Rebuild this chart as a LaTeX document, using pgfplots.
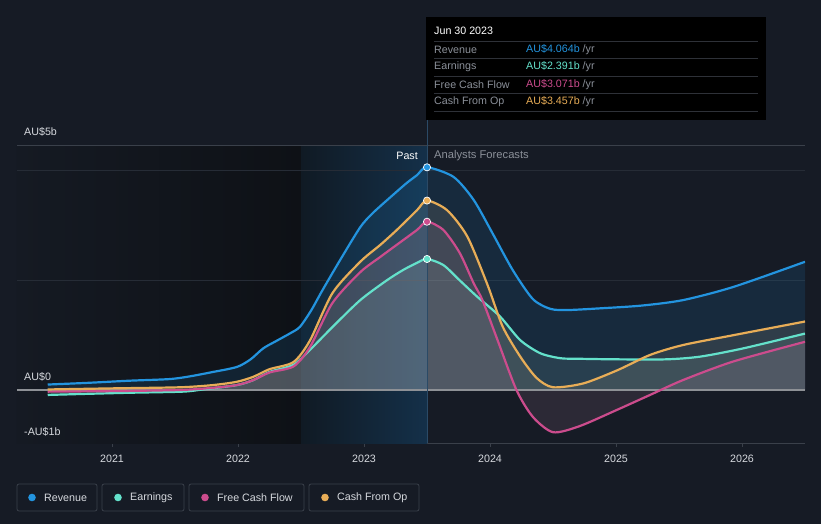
\documentclass[border=0pt]{standalone}
\usepackage{fontspec}
\setmainfont{Liberation Sans}
\usepackage{pgfplots}
\pgfplotsset{compat=1.18}
\usepackage{pgfplotstable}

\definecolor{bg}{HTML}{161B25}
\definecolor{darkL}{HTML}{151A23}
\definecolor{darkR}{HTML}{0E1116}
\definecolor{pastL}{HTML}{101A24}
\definecolor{pastR}{HTML}{143049}
\definecolor{gridc}{HTML}{262C36}
\definecolor{axisc}{HTML}{3A404A}
\definecolor{zeroc}{HTML}{8E9196}
\definecolor{rev}{HTML}{2394DF}
\definecolor{earn}{HTML}{64E1CB}
\definecolor{fcf}{HTML}{CC4C8D}
\definecolor{cfo}{HTML}{E8AD57}
\definecolor{txt}{HTML}{D6D9DE}
\definecolor{muted}{HTML}{8B9099}
\definecolor{sep}{HTML}{2E3138}
\definecolor{vline}{HTML}{2B4A66}

\pgfplotstableread{
x y
2020.49 0.10
2020.80 0.13
2021.14 0.17
2021.46 0.20
2021.62 0.25
2021.78 0.32
2021.99 0.42
2022.10 0.56
2022.20 0.76
2022.30 0.89
2022.41 1.03
2022.49 1.15
2022.58 1.45
2022.67 1.82
2022.81 2.37
2022.97 2.97
2023.07 3.23
2023.23 3.56
2023.34 3.78
2023.42 3.92
2023.50 4.064
2023.71 3.89
2023.87 3.47
2024.02 2.86
2024.18 2.19
2024.34 1.66
2024.48 1.48
2024.62 1.46
2024.87 1.49
2025.20 1.54
2025.53 1.64
2025.93 1.88
2026.50 2.34
}\revtab

\pgfplotstableread{
x y
2020.49 -0.09
2020.80 -0.07
2021.14 -0.05
2021.56 -0.03
2021.72 0.01
2021.99 0.09
2022.12 0.18
2022.25 0.33
2022.44 0.46
2022.57 0.73
2022.75 1.15
2022.97 1.64
2023.18 2.00
2023.31 2.19
2023.42 2.32
2023.50 2.391
2023.63 2.28
2023.76 2.00
2023.90 1.70
2024.08 1.34
2024.24 0.91
2024.40 0.67
2024.56 0.58
2024.71 0.57
2025.00 0.56
2025.40 0.56
2025.67 0.61
2026.01 0.76
2026.50 1.03
}\earntab

\pgfplotstableread{
x y
2020.49 -0.03
2021.00 -0.02
2021.54 0.00
2021.80 0.04
2021.99 0.09
2022.12 0.18
2022.25 0.32
2022.44 0.43
2022.57 0.78
2022.75 1.59
2022.97 2.15
2023.13 2.43
2023.26 2.65
2023.42 2.92
2023.50 3.071
2023.63 2.92
2023.76 2.50
2023.87 1.95
2023.94 1.64
2024.06 0.91
2024.21 0.00
2024.34 -0.49
2024.50 -0.77
2024.71 -0.66
2025.01 -0.36
2025.27 -0.09
2025.53 0.18
2025.93 0.52
2026.50 0.88
}\fcftab

\pgfplotstableread{
x y
2020.49 0.01
2021.00 0.03
2021.54 0.05
2021.80 0.09
2021.99 0.15
2022.12 0.24
2022.25 0.38
2022.44 0.51
2022.57 0.90
2022.75 1.77
2022.97 2.34
2023.13 2.65
2023.26 2.92
2023.42 3.28
2023.50 3.457
2023.66 3.28
2023.82 2.80
2023.98 1.92
2024.10 1.16
2024.24 0.61
2024.37 0.22
2024.50 0.05
2024.74 0.12
2025.01 0.36
2025.27 0.64
2025.53 0.82
2025.93 1.00
2026.50 1.25
}\cfotab

\begin{document}
\begin{tikzpicture}[font=\fontsize{10.7}{12.5}\selectfont]
\fill[bg] (0,0) rectangle (821pt,-524pt);
\begin{axis}[
  at={(17pt,-443pt)}, anchor=south west,
  scale only axis, width=788pt, height=298pt,
  xmin=2020.246, xmax=2026.5, ymin=-0.967, ymax=4.471,
  axis x line*=bottom, axis y line=none,
  x axis line style={draw=axisc, line width=0.8pt, -},
  xtick={2021,2022,2023,2024,2025,2026},
  tick align=outside, major tick length=4pt,
  xtick style={draw=axisc, line width=0.8pt},
  ytick=\empty,
  /pgf/number format/1000 sep={},
  /pgf/number format/assume math mode=true,
  xticklabel style={text=txt, font=\fontsize{10.7}{12.5}\selectfont, yshift=-4pt},
  clip=true,
]
% backgrounds
\fill[left color=darkL, right color=darkR] (axis cs:2020.246,-0.967) rectangle (axis cs:2022.5,4.471);
\fill[left color=pastL, right color=pastR] (axis cs:2022.5,-0.967) rectangle (axis cs:2023.5,4.471);
\draw[gridc, line width=0.8pt] (axis cs:2020.246,2) -- (axis cs:2026.5,2);
\draw[gridc, line width=0.8pt] (axis cs:2020.246,4) -- (axis cs:2026.5,4);
\draw[axisc, line width=0.8pt] (axis cs:2020.246,4.471) -- (axis cs:2026.5,4.471);
% fills
\addplot[draw=none, fill=rev, fill opacity=0.13, smooth, tension=0.45] table {\revtab} \closedcycle;
\addplot[draw=none, fill=earn!45!white, fill opacity=0.11, smooth, tension=0.45] table {\earntab} \closedcycle;
\addplot[draw=none, fill=fcf!55!white, fill opacity=0.11, smooth, tension=0.45] table {\fcftab} \closedcycle;
\addplot[draw=none, fill=cfo!45!white, fill opacity=0.11, smooth, tension=0.45] table {\cfotab} \closedcycle;
\draw[zeroc, line width=1.2pt] (axis cs:2020.246,0) -- (axis cs:2026.5,0);
\draw[vline, line width=1pt] (axis cs:2023.5,-0.967) -- (axis cs:2023.5,4.471);
% lines
\addplot[rev, line width=2.2pt, smooth, tension=0.45] table {\revtab};
\addplot[earn, line width=2.2pt, smooth, tension=0.45] table {\earntab};
\addplot[fcf, line width=2.2pt, smooth, tension=0.45] table {\fcftab};
\addplot[cfo, line width=2.2pt, smooth, tension=0.45] table {\cfotab};
% markers
\addplot[only marks, mark=*, mark size=3.6pt, mark options={fill=rev, draw=white, line width=0.7pt}] coordinates {(2023.5,4.064)};
\addplot[only marks, mark=*, mark size=3.6pt, mark options={fill=cfo, draw=white, line width=0.7pt}] coordinates {(2023.5,3.457)};
\addplot[only marks, mark=*, mark size=3.6pt, mark options={fill=fcf, draw=white, line width=0.7pt}] coordinates {(2023.5,3.071)};
\addplot[only marks, mark=*, mark size=3.6pt, mark options={fill=earn, draw=white, line width=0.7pt}] coordinates {(2023.5,2.391)};
\end{axis}
% vertical connector to tooltip
\draw[vline, line width=1pt] (427pt,-120pt) -- (427pt,-145pt);
% y labels
\node[anchor=west, inner sep=0pt, text=txt] at (24pt,-132pt) {AU\$5b};
\node[anchor=west, inner sep=0pt, text=txt] at (24pt,-377pt) {AU\$0};
\node[anchor=west, inner sep=0pt, text=txt] at (24pt,-432pt) {-AU\$1b};
\node[anchor=east, inner sep=0pt, text=white] at (418pt,-156pt) {Past};
\node[anchor=west, inner sep=0pt, text=muted, font=\fontsize{11.2}{13}\selectfont] at (434pt,-156pt) {Analysts Forecasts};
% tooltip
\fill[black] (426pt,-17pt) rectangle (766pt,-120pt);
\node[anchor=west, inner sep=0pt, text=white] at (434pt,-31pt) {Jun 30 2023};
\foreach \yy in {41,58.5,76,93.5,111}{\draw[sep, line width=0.8pt] (434pt,-\yy pt) -- (758pt,-\yy pt);}
\node[anchor=west, inner sep=0pt, text=muted] at (434pt,-49.5pt) {Revenue};
\node[anchor=west, inner sep=0pt, text=muted] at (434pt,-67pt) {Earnings};
\node[anchor=west, inner sep=0pt, text=muted] at (434pt,-84.5pt) {Free Cash Flow};
\node[anchor=west, inner sep=0pt, text=muted] at (434pt,-102pt) {Cash From Op};
\node[anchor=west, inner sep=0pt] at (526pt,-49.5pt) {\textcolor{rev}{AU\$4.064b} \textcolor{muted}{/yr}};
\node[anchor=west, inner sep=0pt] at (526pt,-67pt) {\textcolor{earn}{AU\$2.391b} \textcolor{muted}{/yr}};
\node[anchor=west, inner sep=0pt] at (526pt,-84.5pt) {\textcolor{fcf}{AU\$3.071b} \textcolor{muted}{/yr}};
\node[anchor=west, inner sep=0pt] at (526pt,-102pt) {\textcolor{cfo}{AU\$3.457b} \textcolor{muted}{/yr}};
% legend
\draw[axisc, line width=0.8pt, rounded corners=2pt] (17pt,-484pt) rectangle (97pt,-511pt);
\draw[axisc, line width=0.8pt, rounded corners=2pt] (102pt,-484pt) rectangle (184pt,-511pt);
\draw[axisc, line width=0.8pt, rounded corners=2pt] (189pt,-484pt) rectangle (304pt,-511pt);
\draw[axisc, line width=0.8pt, rounded corners=2pt] (309pt,-484pt) rectangle (419pt,-511pt);
\fill[rev] (32pt,-497.5pt) circle (3.8pt);
\fill[earn] (118pt,-497.5pt) circle (3.8pt);
\fill[fcf] (205pt,-497.5pt) circle (3.8pt);
\fill[cfo] (325pt,-497.5pt) circle (3.8pt);
\node[anchor=west, inner sep=0pt, text=txt] at (44pt,-497.5pt) {Revenue};
\node[anchor=west, inner sep=0pt, text=txt] at (130pt,-497.5pt) {Earnings};
\node[anchor=west, inner sep=0pt, text=txt] at (217pt,-497.5pt) {Free Cash Flow};
\node[anchor=west, inner sep=0pt, text=txt] at (337pt,-497.5pt) {Cash From Op};
\end{tikzpicture}
\end{document}
